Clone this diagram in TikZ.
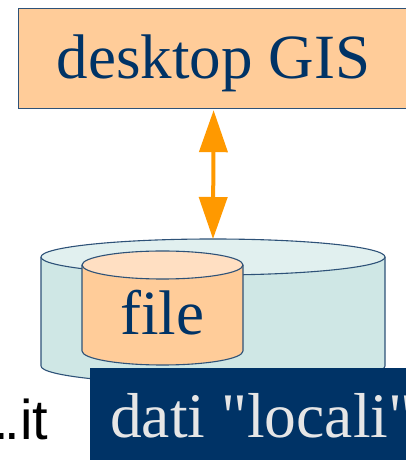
\documentclass[tikz,border=0pt]{standalone}
\usepackage{fontspec}
\setmainfont{Liberation Serif}
\newfontfamily\sansfont{Liberation Sans}
\usetikzlibrary{arrows.meta}

\definecolor{peach}{HTML}{FFCC99}
\definecolor{peachlight}{HTML}{FFDFC2}
\definecolor{navy}{HTML}{003366}
\definecolor{edge}{HTML}{2E5278}
\definecolor{aquaside}{HTML}{CFE7E5}
\definecolor{aquatop}{HTML}{E1F0EF}
\definecolor{arroworange}{HTML}{FF9900}
\definecolor{paletext}{HTML}{E6E6E6}

\tikzset{
  bigfont/.style={font=\fontsize{63}{70}\selectfont},
  appbox/.style={draw=edge, line width=1.2pt, fill=peach, text=navy, bigfont,
    inner sep=0pt, minimum width=390pt, minimum height=100pt,
    text height=50pt, text depth=10pt},
  outline/.style={draw=edge, line width=1.1pt},
  link/.style={draw=arroworange, line width=4pt,
    {Triangle[length=42pt,width=28pt]}-{Triangle[length=42pt,width=28pt]}},
}

\begin{document}
\begin{tikzpicture}[x=1pt,y=1pt]
\useasboundingbox (0,0) rectangle (405,460);

% storage: large cylinder
\fill[aquaside] (41,203) -- (41,94)
  arc[start angle=180, end angle=360, x radius=172pt, y radius=18pt]
  -- (385,203) -- cycle;
\draw[outline] (41,203) -- (41,94)
  arc[start angle=180, end angle=360, x radius=172pt, y radius=18pt]
  -- (385,203);
\filldraw[outline, fill=aquatop] (213,203) ellipse[x radius=172pt, y radius=18pt];
\coordinate (bigtop) at (213,221);

% file: small cylinder inside the storage
\fill[peach] (82,195) -- (82,109)
  arc[start angle=180, end angle=360, x radius=80.5pt, y radius=14pt]
  -- (243,195) -- cycle;
\draw[outline] (82,195) -- (82,109)
  arc[start angle=180, end angle=360, x radius=80.5pt, y radius=14pt]
  -- (243,195);
\filldraw[outline, fill=peachlight] (162.5,195) ellipse[x radius=80.5pt, y radius=14pt];
\node[bigfont, text=navy, anchor=base, inner sep=0pt] (file) at (162,125) {file};

% local data label
\node[fill=navy, anchor=north west, minimum width=330pt, minimum height=110pt,
  inner sep=0pt] (local) at (90,92) {};
\node[font=\fontsize{63.5}{70}\selectfont, text=paletext, anchor=base west,
  inner sep=0pt] (localtext) at (110,22) {dati \textquotedbl locali\textquotedbl};

% url fragment
\node[font=\sansfont\fontsize{56}{60}\selectfont, anchor=base west, inner sep=0pt]
  (url) at (-6.5,20) {.\kern-4.5pt.it};

% application box and its link to the storage
\node[appbox, anchor=north west] (gis) at (18,452) {desktop GIS};
\draw[link, shorten <=1pt] (gis.south) -- (bigtop);
\end{tikzpicture}
\end{document}
